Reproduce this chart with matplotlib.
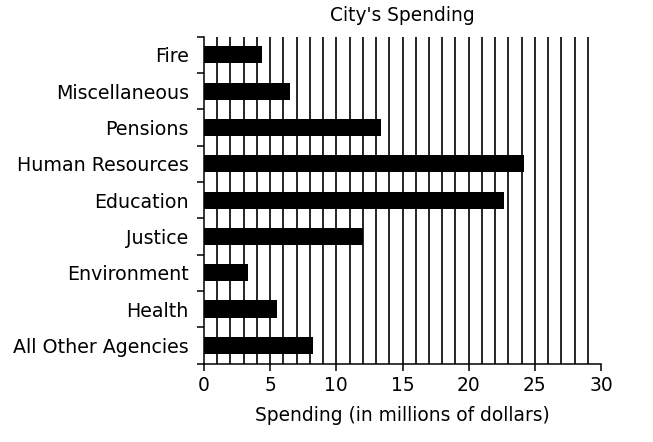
import matplotlib
matplotlib.use("Agg")
import matplotlib.pyplot as plt
import numpy as np

categories = ["Fire", "Miscellaneous", "Pensions", "Human Resources", "Education",
              "Justice", "Environment", "Health", "All Other Agencies"]
values = [4.4, 6.5, 13.4, 24.2, 22.7, 12.0, 3.3, 5.5, 8.2]
xticks = [0, 5, 10, 15, 20, 25, 30]

plt.rcParams['font.family'] = ['DejaVu Sans']
fs = 13.4

fig = plt.figure(figsize=(6.53, 4.42), dpi=100)
ax = fig.add_axes([0.3124, 0.1776, 0.608, 0.7394])

y = np.arange(len(categories))
for g in range(1, 30):
    ax.axvline(g, color='black', lw=1.2, zorder=1)
ax.barh(y, values, height=0.47, color='black', zorder=2)

ax.set_xlim(0, 30)
ax.set_ylim(len(categories) - 0.5, -0.5)
ax.set_yticks(y)
ax.set_yticklabels(categories, fontsize=13.7)
ax.set_yticks(np.arange(-0.5, len(categories)), minor=True)
ax.tick_params(axis='y', which='major', length=0, pad=11)
ax.tick_params(axis='y', which='minor', length=5, width=1.1, direction='out')
ax.set_xticks(xticks)
ax.set_xticklabels([str(t) for t in xticks], fontsize=fs)
ax.tick_params(axis='x', length=5, width=1.1, direction='out', pad=4)

for s in ['top', 'right']:
    ax.spines[s].set_visible(False)
for s in ['left', 'bottom']:
    ax.spines[s].set_linewidth(1.1)

ax.set_xlabel("Spending (in millions of dollars)", fontsize=fs, labelpad=8)
ax.set_title("City's Spending", fontsize=fs, pad=11)

fig.savefig("out.png", dpi=100, facecolor='white')
